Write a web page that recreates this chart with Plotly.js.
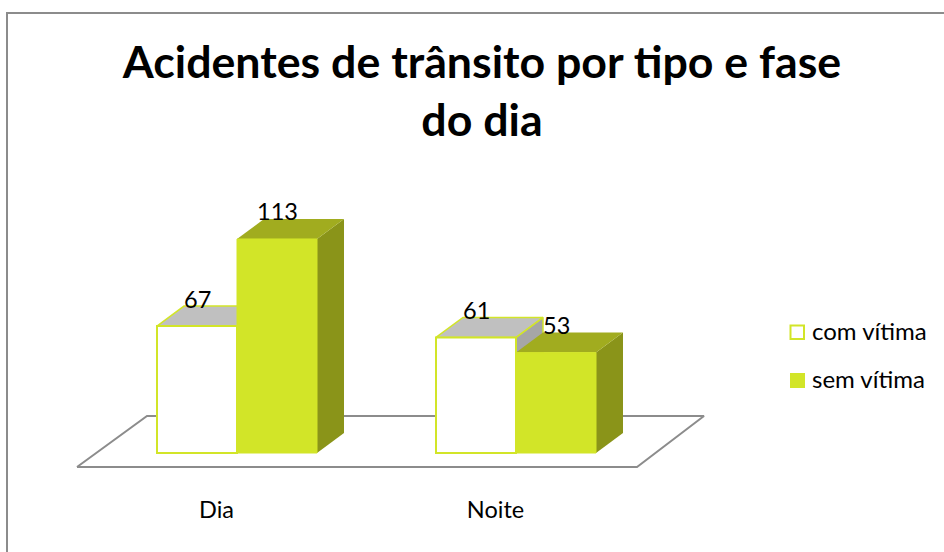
<!DOCTYPE html>
<html><head><meta charset="utf-8">
<script src="https://cdn.plot.ly/plotly-3.0.1.min.js"></script>
<style>html,body{margin:0;padding:0;background:#fff}#c{width:944px;height:552px}</style>
</head><body><div id="c"></div>
<script>
const categories = ["Dia", "Noite"];
const comVitima = [67, 61];
const semVitima = [113, 53];
const seriesNames = ["com vítima", "sem vítima"];
const titleLines = ["Acidentes de trânsito por tipo e fase", "do dia"];

const W = 944, H = 552, plotBottom = 493;
const pxX = 279, pxY = 1.894, zeroX = 237, zeroY = 453;
const xr = [-zeroX / pxX, (W - zeroX) / pxX];
const yr = [-(plotBottom - zeroY) / pxY, zeroY / pxY];
const X = p => p / pxX, Y = p => p / pxY;

const bw = X(80), dx = X(27), dy = Y(20);
const LIME = "#d2e528", TOPL = "#a1ac1f", SIDEL = "#8a9419", GREYT = "#c0c0c0", GREYS = "#a6a6a6", GRID = "#8c8c8c";
const idx = categories.map((_, i) => i);

function poly(xs, ys, fill, line, w) {
  return {type:"scatter", mode:"lines", x:xs, y:ys, fill:"toself", fillcolor:fill,
          line:{color:line, width:w}, hoverinfo:"skip", showlegend:false, xaxis:"x", yaxis:"y"};
}
const faces = (vals, xL, topFill, sideFill, lineCol, lw) => vals.flatMap((v, i) => {
  const l = i + xL, r = l + bw;
  return [
    poly([r, r + dx, r + dx, r, r], [v, v + dy, dy, 0, v], sideFill, lineCol, lw),
    poly([l, l + dx, r + dx, r, l], [v, v + dy, v + dy, v, v], topFill, lineCol, lw)
  ];
});

const floor = poly(
  [X(77 - zeroX), X(637 - zeroX), X(704 - zeroX), X(147 - zeroX), X(77 - zeroX)],
  [Y(zeroY - 467), Y(zeroY - 467), Y(zeroY - 416), Y(zeroY - 416), Y(zeroY - 467)],
  "rgba(255,255,255,0)", GRID, 2);

const traces = [
  floor,
  ...faces(comVitima, -bw, GREYT, GREYS, LIME, 1.5),
  ...faces(semVitima, 0, TOPL, SIDEL, "rgba(0,0,0,0)", 0),
  {type:"bar", name:seriesNames[0], x:idx, y:comVitima, xaxis:"x2", yaxis:"y2", width:bw, offset:-bw,
   marker:{color:"#ffffff", line:{color:LIME, width:2}}, showlegend:false},
  {type:"bar", name:seriesNames[1], x:idx, y:semVitima, xaxis:"x2", yaxis:"y2", width:bw, offset:0,
   marker:{color:LIME, line:{color:LIME, width:1}}, showlegend:false}
];

const FONT = "Lato, 'Open Sans', sans-serif";
const pxPaperX = p => p / W, pxPaperY = p => 1 - p / plotBottom;
const labelAnn = (vals, off) => vals.map((v, i) => ({
  x: i + off, y: v, xref:"x2", yref:"y2", yshift:27.5, text:String(v), showarrow:false,
  xanchor:"center", yanchor:"middle", font:{family:FONT, size:23.5, color:"#000"}
}));
const legendAnn = seriesNames.map((n, i) => ({
  x: pxPaperX(810), y: pxPaperY(330 + i * 48), xref:"paper", yref:"paper", yanchor:"middle", xanchor:"left",
  text:n, showarrow:false, font:{family:FONT, size:24, color:"#000"}
}));

const layout = {
  width:W, height:H, margin:{l:0, r:0, t:0, b:H - plotBottom, pad:0},
  paper_bgcolor:"#fff", plot_bgcolor:"rgba(0,0,0,0)", showlegend:false,
  title:{text:titleLines.join("<br>"),
         x:482 / W, xanchor:"center", xref:"paper", y:1 - 78 / H, yanchor:"top",
         font:{family:FONT, size:44.7, weight:700, color:"#000"}},
  xaxis:{range:xr, tickvals:idx.map(i => i - X(20.5)), ticktext:categories, showgrid:false, zeroline:false,
         showline:false, ticks:"", fixedrange:true, tickfont:{family:FONT, size:23.5, color:"#000"}},
  yaxis:{range:yr, visible:false, fixedrange:true},
  xaxis2:{range:xr, overlaying:"x", anchor:"y2", visible:false, fixedrange:true},
  yaxis2:{range:yr, overlaying:"y", anchor:"x2", visible:false, fixedrange:true},
  annotations:[...labelAnn(comVitima, -bw / 2), ...labelAnn(semVitima, bw / 2), ...legendAnn],
  shapes:[
    {type:"path", xref:"paper", yref:"paper", line:{color:GRID, width:2},
     path:`M${pxPaperX(7)},${pxPaperY(H)} L${pxPaperX(7)},${pxPaperY(13)} L1,${pxPaperY(13)}`},
    {type:"rect", xref:"paper", yref:"paper", x0:pxPaperX(790.5), x1:pxPaperX(804), y0:pxPaperY(325.5), y1:pxPaperY(339),
     fillcolor:"#fff", line:{color:LIME, width:2}},
    {type:"rect", xref:"paper", yref:"paper", x0:pxPaperX(790), x1:pxPaperX(805), y0:pxPaperY(373), y1:pxPaperY(388),
     fillcolor:LIME, line:{width:0}}
  ]
};
Plotly.newPlot("c", traces, layout, {displayModeBar:false, staticPlot:true});
</script></body></html>
